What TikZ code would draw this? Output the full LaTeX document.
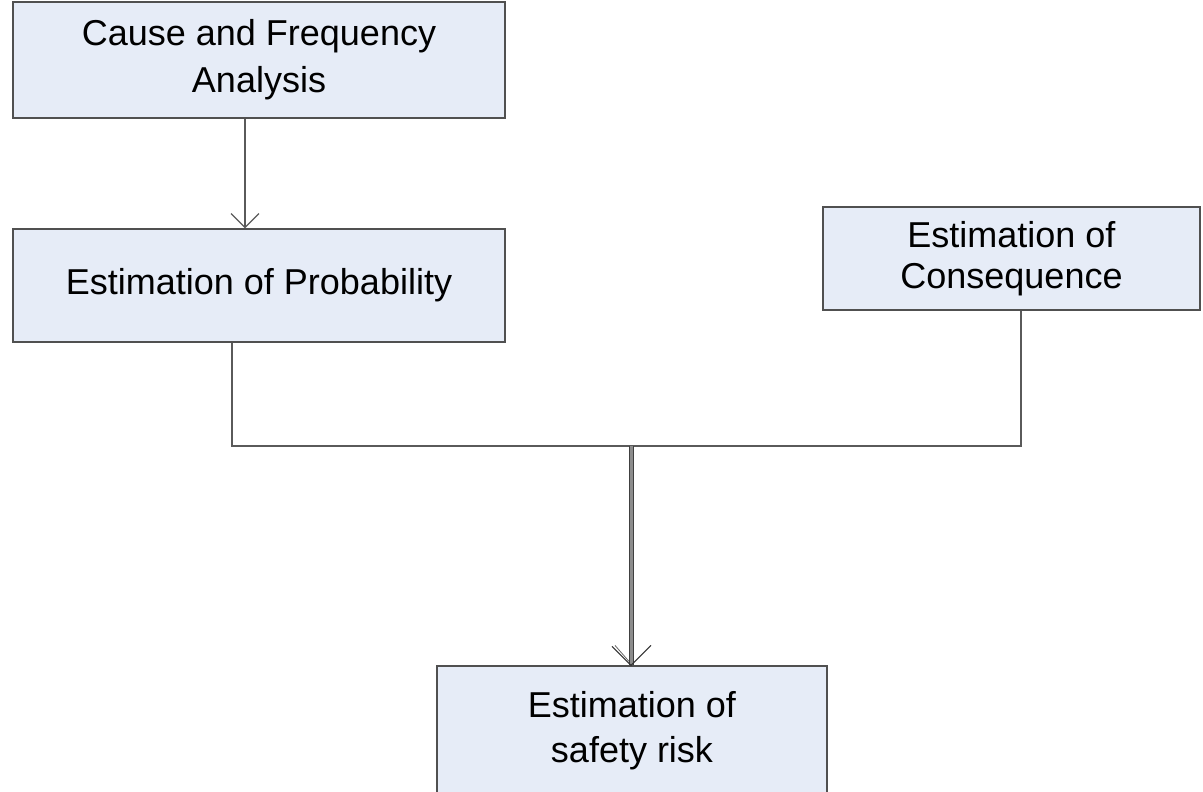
\documentclass[tikz,border=0pt]{standalone}
\usepackage{fontspec}
\setmainfont{Liberation Sans}
\usetikzlibrary{arrows.meta}
\definecolor{boxfill}{RGB}{230,236,247}
\definecolor{boxline}{RGB}{80,80,80}
\definecolor{connline}{RGB}{90,90,90}
\tikzset{
  procbox/.style={draw=boxline, line width=1.2pt, fill=boxfill, align=center,
    inner sep=0pt, font=\fontsize{36}{44}\selectfont},
  conn/.style={draw=connline, line width=1.2pt},
  openhead/.style={-{Straight Barb[length=14pt,width=28pt,line width=1.2pt]}},
}
\begin{document}
\begin{tikzpicture}[x=1pt,y=-1pt]
\useasboundingbox (0,0) rectangle (1203,792);
\clip (0,0) rectangle (1203,792);

% process boxes
\node[procbox, minimum width=492pt, minimum height=116pt,
  font=\fontsize{36}{47}\selectfont] (cfa) at (259,60)
  {Cause and Frequency\\Analysis};
\node[procbox, minimum width=492pt, minimum height=113pt] (prob) at (259,285.5)
  {Estimation of Probability};
\node[procbox, minimum width=377pt, minimum height=103pt,
  font=\fontsize{36}{41}\selectfont] (cons) at (1011.5,258.5)
  {Estimation of\\Consequence};
\node[procbox, minimum width=390pt, minimum height=130pt,
  font=\fontsize{36}{45}\selectfont] (risk) at (632,731)
  {Estimation of\\safety risk};

% routing points
\coordinate (ax) at (245,170);
\coordinate (jl) at (232,446);
\coordinate (jm) at (631,446);
\coordinate (jr) at (1021,446);

% cause analysis feeds probability
\draw[conn, openhead] (cfa.south -| ax) -- (prob.north -| ax);

% probability and consequence merge
\draw[conn] (jl |- prob.south) -- (jl) -- (jr) -- (jr |- cons.south);

% merged flow into the risk estimate
\draw[draw=black!75, line width=1pt, double=black!45, double distance=3pt]
  (jm) -- (jm |- risk.north);
\draw[draw=black!80, line width=1pt]
  ([xshift=-19pt,yshift=19pt]jm |- risk.north) -- (jm |- risk.north)
  -- ([xshift=20pt,yshift=20pt]jm |- risk.north);
\draw[draw=black!60, line width=0.8pt]
  ([xshift=-16pt,yshift=20pt]jm |- risk.north) -- ([xshift=-2pt,yshift=4pt]jm |- risk.north);
\end{tikzpicture}
\end{document}
